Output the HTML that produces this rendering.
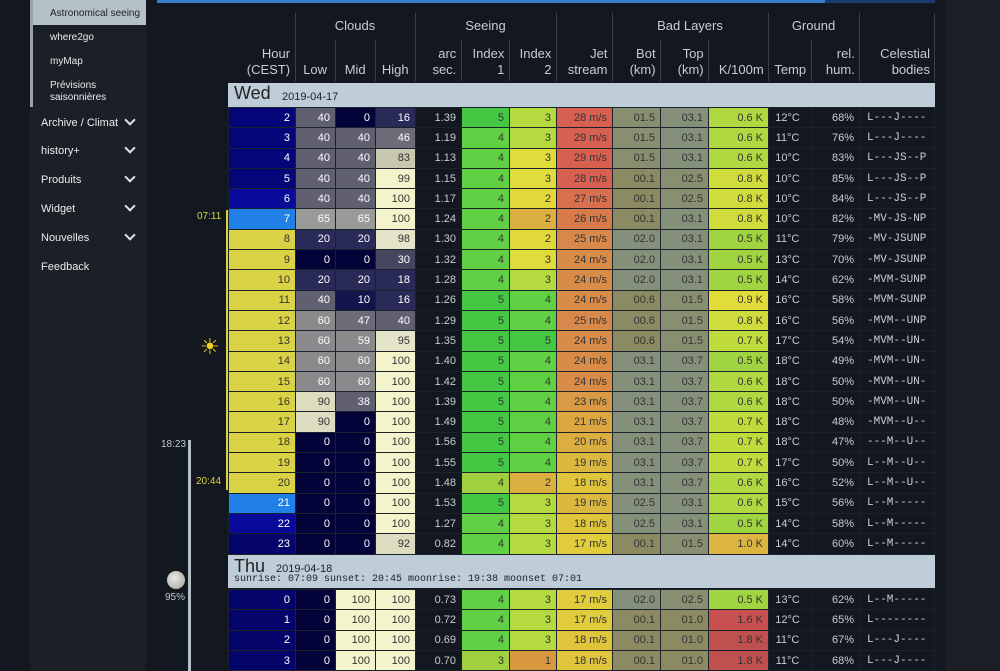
<!DOCTYPE html>
<html><head><meta charset="utf-8">
<style>
*{margin:0;padding:0;box-sizing:border-box}
body{width:1000px;height:671px;overflow:hidden;background:#131820;font-family:"Liberation Sans",sans-serif;position:relative;color:#d0d4d8}
.abs{position:absolute}
#side{left:30px;top:0;width:116px;height:671px;background:#1b2026}
#rightbg{left:945px;top:0;width:55px;height:671px;background:#1b1f25}
.si{position:absolute;font-size:10px;color:#e8ecf0}
.sm{position:absolute;font-size:11px;color:#e8ecf0;left:41px}
.chev{position:absolute;left:126px;width:8px;height:8px;border-right:2px solid #e0e4e8;border-bottom:2px solid #e0e4e8;transform:rotate(45deg)}
table{border-collapse:collapse;table-layout:fixed;position:absolute;left:228px}
td{border:1px solid #1c2229;font-size:11px;text-align:right;padding-right:5px;white-space:nowrap;overflow:hidden}
.hd td{border:none;color:#c8ccd2;font-size:13px;line-height:16px;vertical-align:bottom;padding-bottom:3px;text-align:right;padding-right:5px}
td.c{font-family:"Liberation Mono",monospace;text-align:left;padding-left:7px;color:#c8d0d8;font-size:11px}
td.g{color:#c8ccd2}
.n{background:#05057a;color:#fff}.n2{background:#0a0a9a;color:#fff}.n3{background:#04046a;color:#fff}
.y{background:#d8d244;color:#333}.b{background:#2080e8;color:#fff}
.k0{background:#03033a;color:#fff}.k10{background:#14144c;color:#fff}.k20{background:#2a2a58;color:#fff}.k30{background:#464660;color:#fff}.k40{background:#606070;color:#fff}.k47{background:#6c6c78;color:#fff}.k60{background:#8a8a8c;color:#fff}.k65{background:#9a9a98;color:#fff}.k83{background:#c8c8b0;color:#333}.k90{background:#dcdcc0;color:#333}.k95{background:#e4e4c8;color:#333}.k100{background:#f4f4cc;color:#333}
.i5{background:#44c844;color:#333}.i4{background:#62d044;color:#333}.i3{background:#b4da40;color:#333}.i3y{background:#e0dc3c;color:#333}.i2{background:#e2d83a;color:#333}.i2o{background:#dcb040;color:#333}.i1{background:#d89840;color:#333}.i3g{background:#a0d040;color:#333}
.j29{background:#d86050;color:#333}.j27{background:#d87050;color:#333}.j26{background:#d87a4a;color:#333}.j25{background:#d8884a;color:#333}.j24{background:#d88c48;color:#333}.j23{background:#d89a44;color:#333}.j21{background:#dca640;color:#333}.j20{background:#dcae40;color:#333}.j19{background:#dcb83e;color:#333}.j18{background:#e0c43c;color:#333}.j17{background:#e0cc3c;color:#333}
.bl{background:#8c8a62;color:#333}.bm{background:#888e70;color:#333}.bh{background:#84907a;color:#333}
.K5{background:#a0d440;color:#333}.K6{background:#b0d840;color:#333}.K7{background:#c0dc3c;color:#333}.K8{background:#d0dc3c;color:#333}.K9{background:#e2dc3a;color:#333}.K10{background:#dcb440;color:#333}.K16{background:#c85050;color:#333}.K18{background:#c05050;color:#333}
.day{position:absolute;left:228px;width:707px;background:#bfcdd9;color:#222}
.vl{position:absolute;width:1px;background:#3a4048}
</style></head><body>
<div id="side" class="abs"></div>
<div id="rightbg" class="abs"></div>
<div class="abs" style="left:30px;top:0;width:3px;height:107px;background:#9aa4ac"></div>
<div class="abs" style="left:33px;top:0;width:113px;height:25px;background:#b4c0c8"></div>
<div class="si" style="left:50px;top:8px;color:#222">Astronomical seeing</div>
<div class="si" style="left:50px;top:32px">where2go</div>
<div class="si" style="left:50px;top:56px">myMap</div>
<div class="si" style="left:50px;top:80px;line-height:12px">Prévisions<br>saisonnières</div>
<div class="sm" style="top:117px">Archive / Climat</div><div class="chev" style="top:116px"></div>
<div class="sm" style="top:145px">history+</div><div class="chev" style="top:144px"></div>
<div class="sm" style="top:174px">Produits</div><div class="chev" style="top:173px"></div>
<div class="sm" style="top:203px">Widget</div><div class="chev" style="top:202px"></div>
<div class="sm" style="top:232px">Nouvelles</div><div class="chev" style="top:231px"></div>
<div class="sm" style="top:261px">Feedback</div>

<div class="abs" style="left:157px;top:0;width:668px;height:3px;background:#3a7fd0"></div>
<div class="abs" style="left:825px;top:0;width:110px;height:3px;background:#1a3a70"></div>

<!-- timeline -->
<div class="abs" style="left:226px;top:210px;width:3px;height:280px;background:#d8d244"></div>
<div class="abs" style="left:197px;top:211px;font-size:10px;color:#d8d244">07:11</div>
<div class="abs" style="left:196px;top:476px;font-size:10px;color:#d8d244">20:44</div>
<div class="abs" style="left:200px;top:335px;font-size:22px;color:#f0d020;line-height:24px">☀</div>
<div class="abs" style="left:188px;top:440px;width:3px;height:231px;background:#b4c0c8"></div>
<div class="abs" style="left:161px;top:439px;font-size:10px;color:#c0c8d0">18:23</div>
<div class="abs" style="left:167px;top:571px;width:18px;height:18px;border-radius:50%;background:radial-gradient(circle at 40% 40%,#e8e8e4,#a0a09c)"></div>
<div class="abs" style="left:165px;top:592px;font-size:10px;color:#c0c8d0">95%</div>

<!-- header -->
<div class="abs" style="left:295px;top:18px;width:120px;text-align:center;font-size:13px;color:#c8ccd2">Clouds</div>
<div class="abs" style="left:415px;top:18px;width:141px;text-align:center;font-size:13px;color:#c8ccd2">Seeing</div>
<div class="abs" style="left:612px;top:18px;width:156px;text-align:center;font-size:13px;color:#c8ccd2">Bad Layers</div>
<div class="abs" style="left:768px;top:18px;width:91px;text-align:center;font-size:13px;color:#c8ccd2">Ground</div>
<div class="vl" style="left:295px;top:13px;height:68px"></div>
<div class="vl" style="left:415px;top:13px;height:68px"></div>
<div class="vl" style="left:556px;top:13px;height:68px"></div>
<div class="vl" style="left:612px;top:13px;height:68px"></div>
<div class="vl" style="left:768px;top:13px;height:68px"></div>
<div class="vl" style="left:859px;top:13px;height:68px"></div>
<div class="vl" style="left:934px;top:13px;height:68px"></div>
<div class="vl" style="left:335px;top:40px;height:41px"></div>
<div class="vl" style="left:375px;top:40px;height:41px"></div>
<div class="vl" style="left:461px;top:40px;height:41px"></div>
<div class="vl" style="left:509px;top:40px;height:41px"></div>
<div class="vl" style="left:660px;top:40px;height:41px"></div>
<div class="vl" style="left:708px;top:40px;height:41px"></div>
<div class="vl" style="left:811px;top:40px;height:41px"></div>
<table class="hd" style="top:40px;width:707px;height:41px">
<colgroup><col style="width:67px"><col style="width:40px"><col style="width:40px"><col style="width:40px"><col style="width:46px"><col style="width:48px"><col style="width:47px"><col style="width:56px"><col style="width:48px"><col style="width:48px"><col style="width:60px"><col style="width:43px"><col style="width:48px"><col style="width:75px"></colgroup>
<tr><td>Hour<br>(CEST)</td><td style="text-align:center;padding:0 0 3px">Low</td><td style="text-align:center;padding:0 0 3px">Mid</td><td style="text-align:center;padding:0 0 3px">High</td><td>arc<br>sec.</td><td>Index<br>1</td><td>Index<br>2</td><td>Jet<br>stream</td><td>Bot<br>(km)</td><td>Top<br>(km)</td><td>K/100m</td><td style="text-align:center;padding:0 0 3px">Temp</td><td>rel.<br>hum.</td><td>Celestial<br>bodies</td></tr>
</table>

<div class="day" style="top:83px;height:24px"><span style="position:absolute;left:6px;top:0;font-size:18px">Wed</span><span style="position:absolute;left:54px;top:8px;font-size:11px">2019-04-17</span></div>

<table style="top:107px;width:707px">
<colgroup><col style="width:67px"><col style="width:40px"><col style="width:40px"><col style="width:40px"><col style="width:46px"><col style="width:48px"><col style="width:47px"><col style="width:56px"><col style="width:48px"><col style="width:48px"><col style="width:60px"><col style="width:43px"><col style="width:48px"><col style="width:75px"></colgroup>
<tr style="height:20.3px"><td class="n">2</td><td class="k40">40</td><td class="k0">0</td><td class="k20">16</td><td class="g">1.39</td><td class="i5">5</td><td class="i3">3</td><td class="j29">28 m/s</td><td class="bm">01.5</td><td class="bh">03.1</td><td class="K6">0.6 K</td><td class="g" style="text-align:center">12°C</td><td class="g">68%</td><td class="c">L---J----</td></tr>
<tr style="height:20.3px"><td class="n">3</td><td class="k40">40</td><td class="k40">40</td><td class="k47">46</td><td class="g">1.19</td><td class="i4">4</td><td class="i3">3</td><td class="j29">29 m/s</td><td class="bm">01.5</td><td class="bh">03.1</td><td class="K6">0.6 K</td><td class="g" style="text-align:center">11°C</td><td class="g">76%</td><td class="c">L---J----</td></tr>
<tr style="height:20.3px"><td class="n">4</td><td class="k40">40</td><td class="k40">40</td><td class="k83">83</td><td class="g">1.13</td><td class="i4">4</td><td class="i3y">3</td><td class="j29">29 m/s</td><td class="bm">01.5</td><td class="bh">03.1</td><td class="K6">0.6 K</td><td class="g" style="text-align:center">10°C</td><td class="g">83%</td><td class="c">L---JS--P</td></tr>
<tr style="height:20.3px"><td class="n">5</td><td class="k40">40</td><td class="k40">40</td><td class="k100">99</td><td class="g">1.15</td><td class="i4">4</td><td class="i3y">3</td><td class="j29">28 m/s</td><td class="bl">00.1</td><td class="bm">02.5</td><td class="K8">0.8 K</td><td class="g" style="text-align:center">10°C</td><td class="g">85%</td><td class="c">L---JS--P</td></tr>
<tr style="height:20.3px"><td class="n2">6</td><td class="k40">40</td><td class="k40">40</td><td class="k100">100</td><td class="g">1.17</td><td class="i4">4</td><td class="i2">2</td><td class="j27">27 m/s</td><td class="bl">00.1</td><td class="bm">02.5</td><td class="K8">0.8 K</td><td class="g" style="text-align:center">10°C</td><td class="g">84%</td><td class="c">L---JS--P</td></tr>
<tr style="height:20.3px"><td class="b">7</td><td class="k65">65</td><td class="k65">65</td><td class="k100">100</td><td class="g">1.24</td><td class="i4">4</td><td class="i2o">2</td><td class="j26">26 m/s</td><td class="bl">00.1</td><td class="bh">03.1</td><td class="K8">0.8 K</td><td class="g" style="text-align:center">10°C</td><td class="g">82%</td><td class="c">-MV-JS-NP</td></tr>
<tr style="height:20.3px"><td class="y">8</td><td class="k20">20</td><td class="k20">20</td><td class="k95">98</td><td class="g">1.30</td><td class="i4">4</td><td class="i2">2</td><td class="j25">25 m/s</td><td class="bh">02.0</td><td class="bh">03.1</td><td class="K5">0.5 K</td><td class="g" style="text-align:center">11°C</td><td class="g">79%</td><td class="c">-MV-JSUNP</td></tr>
<tr style="height:20.3px"><td class="y">9</td><td class="k0">0</td><td class="k0">0</td><td class="k30">30</td><td class="g">1.32</td><td class="i4">4</td><td class="i3y">3</td><td class="j24">24 m/s</td><td class="bh">02.0</td><td class="bh">03.1</td><td class="K5">0.5 K</td><td class="g" style="text-align:center">13°C</td><td class="g">70%</td><td class="c">-MV-JSUNP</td></tr>
<tr style="height:20.3px"><td class="y">10</td><td class="k20">20</td><td class="k20">20</td><td class="k20">18</td><td class="g">1.28</td><td class="i4">4</td><td class="i3">3</td><td class="j24">24 m/s</td><td class="bh">02.0</td><td class="bh">03.1</td><td class="K5">0.5 K</td><td class="g" style="text-align:center">14°C</td><td class="g">62%</td><td class="c">-MVM-SUNP</td></tr>
<tr style="height:20.3px"><td class="y">11</td><td class="k40">40</td><td class="k10">10</td><td class="k20">16</td><td class="g">1.26</td><td class="i5">5</td><td class="i4">4</td><td class="j24">24 m/s</td><td class="bl">00.6</td><td class="bm">01.5</td><td class="K9">0.9 K</td><td class="g" style="text-align:center">16°C</td><td class="g">58%</td><td class="c">-MVM-SUNP</td></tr>
<tr style="height:20.3px"><td class="y">12</td><td class="k60">60</td><td class="k47">47</td><td class="k40">40</td><td class="g">1.29</td><td class="i5">5</td><td class="i4">4</td><td class="j25">25 m/s</td><td class="bl">00.6</td><td class="bm">01.5</td><td class="K8">0.8 K</td><td class="g" style="text-align:center">16°C</td><td class="g">56%</td><td class="c">-MVM--UNP</td></tr>
<tr style="height:20.3px"><td class="y">13</td><td class="k60">60</td><td class="k60">59</td><td class="k95">95</td><td class="g">1.35</td><td class="i5">5</td><td class="i5">5</td><td class="j24">24 m/s</td><td class="bl">00.6</td><td class="bm">01.5</td><td class="K7">0.7 K</td><td class="g" style="text-align:center">17°C</td><td class="g">54%</td><td class="c">-MVM--UN-</td></tr>
<tr style="height:20.3px"><td class="y">14</td><td class="k60">60</td><td class="k60">60</td><td class="k100">100</td><td class="g">1.40</td><td class="i5">5</td><td class="i4">4</td><td class="j24">24 m/s</td><td class="bh">03.1</td><td class="bh">03.7</td><td class="K5">0.5 K</td><td class="g" style="text-align:center">18°C</td><td class="g">49%</td><td class="c">-MVM--UN-</td></tr>
<tr style="height:20.3px"><td class="y">15</td><td class="k60">60</td><td class="k60">60</td><td class="k100">100</td><td class="g">1.42</td><td class="i5">5</td><td class="i4">4</td><td class="j24">24 m/s</td><td class="bh">03.1</td><td class="bh">03.7</td><td class="K6">0.6 K</td><td class="g" style="text-align:center">18°C</td><td class="g">50%</td><td class="c">-MVM--UN-</td></tr>
<tr style="height:20.3px"><td class="y">16</td><td class="k90">90</td><td class="k40">38</td><td class="k100">100</td><td class="g">1.39</td><td class="i5">5</td><td class="i4">4</td><td class="j23">23 m/s</td><td class="bh">03.1</td><td class="bh">03.7</td><td class="K6">0.6 K</td><td class="g" style="text-align:center">18°C</td><td class="g">50%</td><td class="c">-MVM--UN-</td></tr>
<tr style="height:20.3px"><td class="y">17</td><td class="k90">90</td><td class="k0">0</td><td class="k100">100</td><td class="g">1.49</td><td class="i5">5</td><td class="i4">4</td><td class="j21">21 m/s</td><td class="bh">03.1</td><td class="bh">03.7</td><td class="K7">0.7 K</td><td class="g" style="text-align:center">18°C</td><td class="g">48%</td><td class="c">-MVM--U--</td></tr>
<tr style="height:20.3px"><td class="y">18</td><td class="k0">0</td><td class="k0">0</td><td class="k100">100</td><td class="g">1.56</td><td class="i5">5</td><td class="i4">4</td><td class="j20">20 m/s</td><td class="bh">03.1</td><td class="bh">03.7</td><td class="K7">0.7 K</td><td class="g" style="text-align:center">18°C</td><td class="g">47%</td><td class="c">---M--U--</td></tr>
<tr style="height:20.3px"><td class="y">19</td><td class="k0">0</td><td class="k0">0</td><td class="k100">100</td><td class="g">1.55</td><td class="i5">5</td><td class="i4">4</td><td class="j19">19 m/s</td><td class="bh">03.1</td><td class="bh">03.7</td><td class="K7">0.7 K</td><td class="g" style="text-align:center">17°C</td><td class="g">50%</td><td class="c">L--M--U--</td></tr>
<tr style="height:20.3px"><td class="y">20</td><td class="k0">0</td><td class="k0">0</td><td class="k100">100</td><td class="g">1.48</td><td class="i3g">4</td><td class="i2o">2</td><td class="j18">18 m/s</td><td class="bh">03.1</td><td class="bh">03.7</td><td class="K6">0.6 K</td><td class="g" style="text-align:center">16°C</td><td class="g">52%</td><td class="c">L--M--U--</td></tr>
<tr style="height:20.3px"><td class="b">21</td><td class="k0">0</td><td class="k0">0</td><td class="k100">100</td><td class="g">1.53</td><td class="i5">5</td><td class="i3">3</td><td class="j19">19 m/s</td><td class="bh">02.5</td><td class="bh">03.1</td><td class="K6">0.6 K</td><td class="g" style="text-align:center">15°C</td><td class="g">56%</td><td class="c">L--M-----</td></tr>
<tr style="height:20.3px"><td class="n2">22</td><td class="k0">0</td><td class="k0">0</td><td class="k100">100</td><td class="g">1.27</td><td class="i4">4</td><td class="i3">3</td><td class="j18">18 m/s</td><td class="bh">02.5</td><td class="bh">03.1</td><td class="K5">0.5 K</td><td class="g" style="text-align:center">14°C</td><td class="g">58%</td><td class="c">L--M-----</td></tr>
<tr style="height:20.3px"><td class="n3">23</td><td class="k0">0</td><td class="k0">0</td><td class="k90">92</td><td class="g">0.82</td><td class="i4">4</td><td class="i3">3</td><td class="j17">17 m/s</td><td class="bl">00.1</td><td class="bm">01.5</td><td class="K10">1.0 K</td><td class="g" style="text-align:center">14°C</td><td class="g">60%</td><td class="c">L--M-----</td></tr>
</table>

<div class="day" style="top:555px;height:33px"><span style="position:absolute;left:6px;top:1px;font-size:18px">Thu</span><span style="position:absolute;left:48px;top:8px;font-size:11px">2019-04-18</span><span style="position:absolute;left:6px;top:19px;font-size:10px;font-family:'Liberation Mono',monospace">sunrise: 07:09 sunset: 20:45 moonrise: 19:38 moonset 07:01</span></div>

<table style="top:589px;width:707px">
<colgroup><col style="width:67px"><col style="width:40px"><col style="width:40px"><col style="width:40px"><col style="width:46px"><col style="width:48px"><col style="width:47px"><col style="width:56px"><col style="width:48px"><col style="width:48px"><col style="width:60px"><col style="width:43px"><col style="width:48px"><col style="width:75px"></colgroup>
<tr style="height:20.3px"><td class="n3">0</td><td class="k0">0</td><td class="k100">100</td><td class="k100">100</td><td class="g">0.73</td><td class="i4">4</td><td class="i3">3</td><td class="j17">17 m/s</td><td class="bh">02.0</td><td class="bm">02.5</td><td class="K5">0.5 K</td><td class="g" style="text-align:center">13°C</td><td class="g">62%</td><td class="c">L--M-----</td></tr>
<tr style="height:20.3px"><td class="n3">1</td><td class="k0">0</td><td class="k100">100</td><td class="k100">100</td><td class="g">0.72</td><td class="i4">4</td><td class="i3">3</td><td class="j17">17 m/s</td><td class="bl">00.1</td><td class="bl">01.0</td><td class="K16">1.6 K</td><td class="g" style="text-align:center">12°C</td><td class="g">65%</td><td class="c">L--------</td></tr>
<tr style="height:20.3px"><td class="n3">2</td><td class="k0">0</td><td class="k100">100</td><td class="k100">100</td><td class="g">0.69</td><td class="i4">4</td><td class="i3">3</td><td class="j18">18 m/s</td><td class="bl">00.1</td><td class="bl">01.0</td><td class="K18">1.8 K</td><td class="g" style="text-align:center">11°C</td><td class="g">67%</td><td class="c">L---J----</td></tr>
<tr style="height:20.3px"><td class="n3">3</td><td class="k0">0</td><td class="k100">100</td><td class="k100">100</td><td class="g">0.70</td><td class="i3g">3</td><td class="i1">1</td><td class="j18">18 m/s</td><td class="bl">00.1</td><td class="bl">01.0</td><td class="K18">1.8 K</td><td class="g" style="text-align:center">11°C</td><td class="g">68%</td><td class="c">L---J----</td></tr>
</table>
</body></html>
